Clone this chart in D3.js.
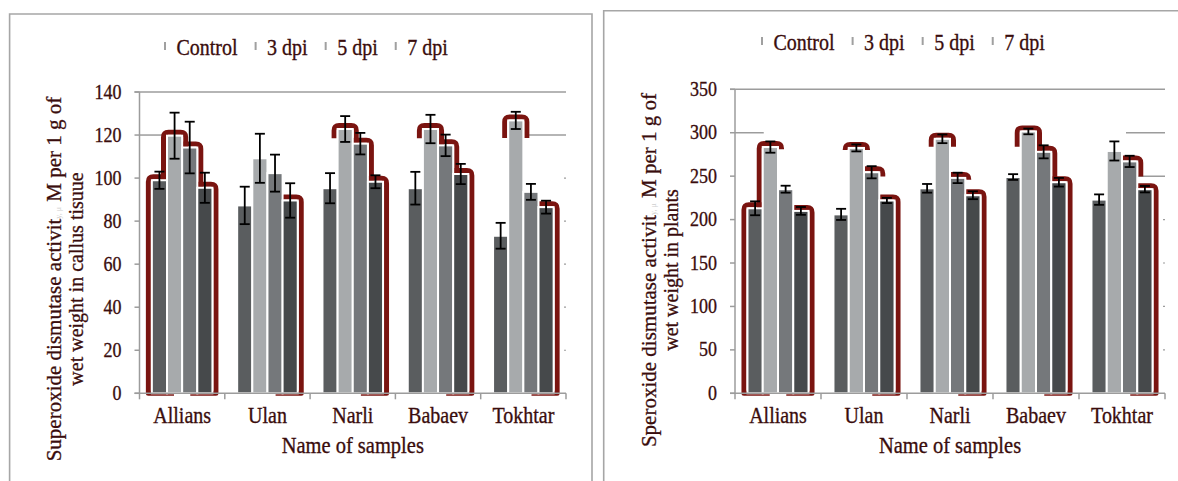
<!DOCTYPE html>
<html><head><meta charset="utf-8">
<script src="https://cdn.jsdelivr.net/npm/d3@7"></script>
</head><body style="margin:0;background:#fff">
<svg id="c" width="1178" height="481"></svg>
<script>
// ---------- data ----------
const categories = ["Allians", "Ulan", "Narli", "Babaev", "Tokhtar"];
const seriesNames = ["Control", "3 dpi", "5 dpi", "7 dpi"];

// left chart: callus tissue
const callusControl = [99, 87.3, 95.3, 95.3, 73.2];
const callus3dpi    = [119.7, 109.2, 122.8, 122.8, 126.8];
const callus5dpi    = [114.2, 102.3, 116, 115.2, 93.6];
const callus7dpi    = [95.5, 89.6, 98.3, 101.9, 86.5];
const callusErrControl = [4, 8.7, 7, 7.6, 6];
const callusErr3dpi    = [10.7, 11.4, 6, 6.6, 4];
const callusErr5dpi    = [12, 8.6, 5, 5, 3.7];
const callusErr7dpi    = [7, 8, 3, 4.7, 3];
const callusTicks = [0, 20, 40, 60, 80, 100, 120, 140];

// right chart: plants
const plantControl = [213, 206, 236, 249, 223];
const plant3dpi    = [283.5, 282.5, 293, 301.5, 279];
const plant5dpi    = [235, 254.5, 248, 278, 267];
const plant7dpi    = [210, 222, 228, 243, 235];
const plantErrControl = [8, 6.4, 5, 3.3, 6];
const plantErr3dpi    = [6.5, 4, 5, 3.3, 11];
const plantErr5dpi    = [4, 7, 6, 7.5, 6.5];
const plantErr7dpi    = [4.5, 3, 4.5, 5, 3.7];
const plantTicks = [0, 50, 100, 150, 200, 250, 300, 350];

// decorative dark-red glow (style): [left side down to value, right side down to value] or null
const callusGlow = [
  [[0, 99], [99, 114], [114, 95.5], [95.5, 0]],
  [null, null, null, [87, 0]],
  [null, [118.5, 116], [116, 98.3], [96, 0]],
  [null, [118.5, 115.2], [115.2, 101.9], [100, 0]],
  [null, [118.6, 118.6], null, [84.5, 0]]
];
const plantGlow = [
  [[0, 213], [213, 281], null, [208, 0]],
  [null, [280, 280], [252, 249.5], [220, 0]],
  [null, [284, 284], [246, 246], [226, 0]],
  [null, [284, 278], [278, 243.8], [241, 0]],
  [null, null, [265, 249.5], [233, 0]]
];

// ---------- style ----------
const FONT = '"Liberation Serif"';
const barColors = ["#5a5d5f", "#a7aaac", "#75787b", "#46494b"];
const textColor = "#3a0d0d";
const gridColor = "#9c9c9c";
const glowColor = "#7a1410";
const STRETCH = 1.12; // the source figure is slightly stretched vertically

const charts = [
  {
    series: [callusControl, callus3dpi, callus5dpi, callus7dpi],
    errs: [callusErrControl, callusErr3dpi, callusErr5dpi, callusErr7dpi],
    ticks: callusTicks, glow: callusGlow,
    frame: {x: 9.6, y: 14, w: 582.4},
    plot: {x0: 139.5, x1: 566, y0: 393.3, y1: 92},
    legend: {x: 165, y: 55},
    title1: ["Superoxide dismutase activit", "y, \u03bc", " M per 1 g of"],
    title2: "wet weight in callus tisuue",
    tx1: 61, tx2: 83, tcy: 279,
    gridFull: [140], gridLeft: [120], gridRight: [120]
  },
  {
    series: [plantControl, plant3dpi, plant5dpi, plant7dpi],
    errs: [plantErrControl, plantErr3dpi, plantErr5dpi, plantErr7dpi],
    ticks: plantTicks, glow: plantGlow,
    frame: {x: 603.7, y: 10.7, w: 600},
    plot: {x0: 735, x1: 1165, y0: 393.3, y1: 89.3},
    legend: {x: 762, y: 50},
    title1: ["Speroxide dismutase activit", "y, \u03bc", " M per 1 g of"],
    title2: "wet weight in plants",
    tx1: 656, tx2: 678, tcy: 270,
    gridFull: [350], gridLeft: [300], gridRight: [300, 250]
  }
];

const svg = d3.select("#c");
const txt = (sel) => sel.append("text").style("font-family", FONT)
  .attr("fill", textColor).attr("stroke", textColor).attr("stroke-width", 0.3);
// horizontal text placed with a slight vertical stretch
const htxt = (sel, x, yb, size) => txt(sel).attr("font-size", size)
  .attr("transform", `translate(${x},${yb}) scale(1,${STRETCH})`);
const measureCtx = document.createElement("canvas").getContext("2d");
const measure = (s, size) => { measureCtx.font = `${size}px "Liberation Serif"`; return measureCtx.measureText(s).width; };

charts.forEach(ch => {
  const g = svg.append("g");
  const P = ch.plot;
  const yMax = d3.max(ch.ticks);

  // frame
  g.append("path")
    .attr("d", `M${ch.frame.x},490 V${ch.frame.y} H${ch.frame.x + ch.frame.w} V490`)
    .attr("fill", "none").attr("stroke", "#a6a6a6").attr("stroke-width", 1.6);

  const y = d3.scaleLinear().domain([0, yMax]).range([P.y0, P.y1]);
  const x0 = d3.scaleBand().domain(categories).range([P.x0, P.x1]).paddingInner(0.29).paddingOuter(0.145);
  const x1 = d3.scaleBand().domain(seriesNames).range([0, x0.bandwidth()]);

  // gridlines
  const gl = g.append("g").attr("stroke", gridColor).attr("stroke-width", 1.5);
  ch.gridFull.forEach(v => gl.append("line").attr("x1", P.x0 - 5).attr("x2", P.x1).attr("y1", y(v)).attr("y2", y(v)));
  const tallest = (ci) => {
    const vals = ch.series.map(s => s[ci]);
    return seriesNames[vals.indexOf(d3.max(vals))];
  };
  ch.gridLeft.forEach(v => {
    const c = categories[0];
    gl.append("line").attr("x1", P.x0).attr("x2", x0(c) + x1(tallest(0)) + 1).attr("y1", y(v)).attr("y2", y(v));
  });
  ch.gridRight.forEach(v => {
    const ci = categories.length - 1, c = categories[ci];
    gl.append("line").attr("x1", x0(c) + x1(tallest(ci)) + x1.bandwidth() + 4).attr("x2", P.x1).attr("y1", y(v)).attr("y2", y(v));
  });
  ch.ticks.filter(v => v > 0 && !ch.gridFull.includes(v) && !ch.gridRight.includes(v)).forEach(v => {
    gl.append("line").attr("x1", P.x1 - 2).attr("x2", P.x1).attr("y1", y(v)).attr("y2", y(v)).attr("stroke-width", 1.2);
  });

  // glow paths
  const d = 4.5, r = 5;
  const glowG = g.append("g").attr("fill", "none").attr("stroke", glowColor).attr("stroke-width", 5).attr("stroke-linejoin", "round");
  categories.forEach((c, ci) => {
    seriesNames.forEach((s, si) => {
      const spec = ch.glow[ci][si];
      if (!spec) return;
      const v = ch.series[si][ci];
      const fx0 = x0(c) + x1(s) + 1, fx1 = x0(c) + x1(s) + x1.bandwidth() - 1;
      const yt = y(v) + 1 - d;
      const lx = fx0 - d, rx = fx1 + d;
      const yl = Math.max(spec[0] === 0 ? P.y0 : y(spec[0]), yt + r);
      const yr = Math.max(spec[1] === 0 ? P.y0 : y(spec[1]), yt + r);
      let p = "";
      if (spec[0] === 0) p += `M${fx1 + 8},${P.y0} L${lx},${P.y0} L${lx},${yt + r}`;
      else p += `M${lx},${yl} L${lx},${yt + r}`;
      p += ` Q${lx},${yt} ${lx + r},${yt} L${rx - r},${yt} Q${rx},${yt} ${rx},${yt + r} L${rx},${yr}`;
      if (spec[1] === 0) p += ` L${fx0 - 8},${P.y0}`;
      glowG.append("path").attr("d", p);
    });
  });

  // bars
  const bars = g.append("g");
  categories.forEach((c, ci) => {
    seriesNames.forEach((s, si) => {
      const v = ch.series[si][ci];
      bars.append("rect")
        .attr("x", x0(c) + x1(s)).attr("y", y(v))
        .attr("width", x1.bandwidth()).attr("height", P.y0 - y(v))
        .attr("fill", barColors[si]).attr("stroke", "#fff").attr("stroke-width", 2);
    });
  });

  // axes
  const ax = g.append("g").attr("stroke", gridColor).attr("stroke-width", 1.5);
  ax.append("line").attr("x1", P.x0).attr("x2", P.x0).attr("y1", y(yMax)).attr("y2", P.y0);
  ax.append("line").attr("x1", P.x0 - 5).attr("x2", P.x1).attr("y1", P.y0).attr("y2", P.y0);
  ch.ticks.forEach(v => ax.append("line").attr("x1", P.x0 - 5).attr("x2", P.x0).attr("y1", y(v)).attr("y2", y(v)));
  const step = x0.step();
  d3.range(categories.length + 1).forEach(i => {
    const xx = P.x0 + i * step;
    ax.append("line").attr("x1", xx).attr("x2", xx).attr("y1", P.y0).attr("y2", P.y0 + 6);
  });

  // error bars
  const eg = g.append("g").attr("stroke", "#000").attr("stroke-width", 1.8);
  categories.forEach((c, ci) => {
    seriesNames.forEach((s, si) => {
      const v = ch.series[si][ci], e = ch.errs[si][ci];
      const cx = x0(c) + x1(s) + x1.bandwidth() / 2;
      eg.append("line").attr("x1", cx).attr("x2", cx).attr("y1", y(v + e)).attr("y2", y(v - e));
      eg.append("line").attr("x1", cx - 5).attr("x2", cx + 5).attr("y1", y(v + e)).attr("y2", y(v + e));
      eg.append("line").attr("x1", cx - 5).attr("x2", cx + 5).attr("y1", y(v - e)).attr("y2", y(v - e));
    });
  });

  // tick labels
  ch.ticks.forEach(v => htxt(g, P.x0 - 18, y(v) + 6.5, 18).attr("text-anchor", "end").text(v));

  // category labels
  categories.forEach(c => htxt(g, x0(c) + x0.bandwidth() / 2, 423.3, 20).attr("text-anchor", "middle").text(c));
  htxt(g, (P.x0 + P.x1) / 2, 452.5, 20.5).attr("text-anchor", "middle").text("Name of samples");

  // y titles
  const t1 = txt(g).attr("transform", `translate(${ch.tx1},${ch.tcy}) rotate(-90)`)
    .attr("text-anchor", "middle").attr("font-size", 21);
  t1.append("tspan").text(ch.title1[0]);
  t1.append("tspan").attr("font-size", 8).attr("fill", "#cfcfcf").attr("stroke", "none").text(ch.title1[1]);
  t1.append("tspan").text(ch.title1[2]);
  txt(g).attr("transform", `translate(${ch.tx2},${ch.tcy}) rotate(-90)`)
    .attr("text-anchor", "middle").attr("font-size", 20).text(ch.title2);

  // legend
  let lx = ch.legend.x;
  seriesNames.forEach((s, si) => {
    g.append("rect").attr("x", lx - 1).attr("y", ch.legend.y - 13).attr("width", 2).attr("height", 8).attr("fill", "#a0a0a0");
    htxt(g, lx + 11.5, ch.legend.y, 20).text(s);
    lx = lx + 11.5 + measure(s, 20) + 18;
  });
});
</script>
</body></html>
